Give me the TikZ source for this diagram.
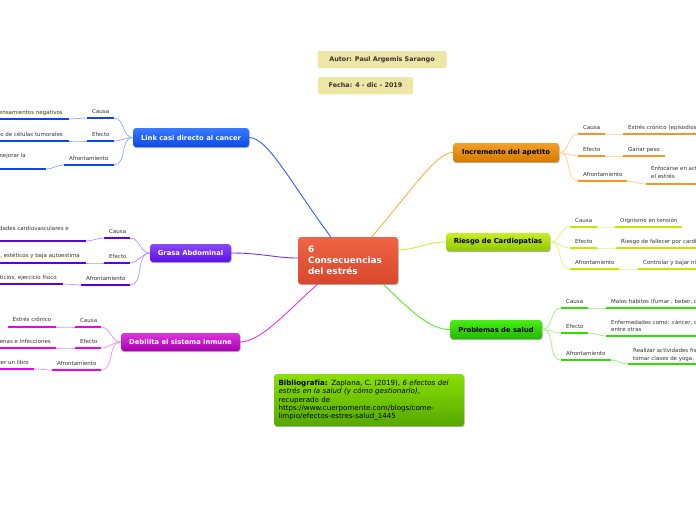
\documentclass[tikz,border=0pt]{standalone}
\usepackage{fontspec}
\setmainfont{DejaVu Sans}
\usetikzlibrary{shadows}
\definecolor{bluT}{HTML}{3A7BFF}\definecolor{bluB}{HTML}{0A48E8}\definecolor{bluU}{HTML}{0A47F0}\definecolor{bluC}{HTML}{8FA8FF}\definecolor{bluM}{HTML}{2A60FF}
\definecolor{orT}{HTML}{F2A02A}\definecolor{orB}{HTML}{D47C00}\definecolor{orU}{HTML}{F5961E}\definecolor{orC}{HTML}{FFCC88}\definecolor{orM}{HTML}{FFB040}
\definecolor{ygT}{HTML}{C8EE24}\definecolor{ygB}{HTML}{92C800}\definecolor{ygU}{HTML}{C8E600}\definecolor{ygC}{HTML}{E0F27A}\definecolor{ygM}{HTML}{D0EE30}
\definecolor{grT}{HTML}{48EE14}\definecolor{grB}{HTML}{22B800}\definecolor{grU}{HTML}{33DD00}\definecolor{grC}{HTML}{9CEE7A}\definecolor{grM}{HTML}{55EE22}
\definecolor{puT}{HTML}{8A48FF}\definecolor{puB}{HTML}{5A10E0}\definecolor{puU}{HTML}{5A00E6}\definecolor{puC}{HTML}{B890FF}\definecolor{puM}{HTML}{7A30F8}
\definecolor{maT}{HTML}{DD36DD}\definecolor{maB}{HTML}{A800B0}\definecolor{maU}{HTML}{EE00EE}\definecolor{maC}{HTML}{F290F2}\definecolor{maM}{HTML}{EE30EE}
\definecolor{ceT}{HTML}{EE6444}\definecolor{ceB}{HTML}{D8472D}
\definecolor{biT}{HTML}{8AE000}\definecolor{biB}{HTML}{55A800}
\definecolor{auF}{HTML}{EEE6A4}
\definecolor{txt}{HTML}{333333}
\newcommand\ulx[5]{\coordinate (#1w) at (#3,#5); \coordinate (#1e) at (#4,#5); \draw[ul,#2] (#1w) -- (#1e);}
\begin{document}
\begin{tikzpicture}[x=1pt,y=-1pt,
  box/.style={rounded corners=3pt, inner sep=0pt, font=\fontsize{6.8}{8}\selectfont\bfseries,
    drop shadow={shadow xshift=0.6pt, shadow yshift=-1.2pt, opacity=0.3, fill=black}},
  lbl/.style={font=\fontsize{5.5}{7.5}\selectfont, inner sep=0pt, text=txt},
  ul/.style={line width=2.4pt},
  con/.style={line width=0.7pt},
  main/.style={line width=0.9pt}]
\useasboundingbox (0,0) rectangle (696,520);
\fill[white] (0,0) rectangle (696,520);
\clip (0,0) rectangle (696,520);

% ---------- author / date
\node[fill=auF, rounded corners=1.5pt, minimum width=129pt, minimum height=17pt, inner sep=0pt,
  font=\fontsize{6.4}{7.5}\selectfont\bfseries, text=txt] (autor) at (382,59.5) {Autor: Paul Argemis Sarango};
\node[fill=auF, rounded corners=1.5pt, minimum width=95pt, minimum height=17pt, inner sep=0pt,
  font=\fontsize{6.4}{7.5}\selectfont\bfseries, text=txt] (fecha) at (365.5,85.5) {Fecha: 4 - dic - 2019};

% ---------- center
\node[box, top color=ceT, bottom color=ceB, text=white, minimum width=100pt, minimum height=47pt,
  text width=80pt, align=left, font=\fontsize{8.9}{11.2}\selectfont\bfseries] (center) at (348,260.5)
  {6\\Consecuencias\\del estrés};

% ---------- bibliography
\node[box, top color=biT, bottom color=biB, text=black, minimum width=190pt, minimum height=52pt,
  text width=181pt, align=left, font=\fontsize{7.1}{8.1}\selectfont] (bib) at (369,400)
  {\textbf{Bibliografía:} Zaplana, C. (2019), \textit{6 efectos del}\\
   \textit{estrés en la salud (y cómo gestionarlo)},\\
   recuperado de\\
   https://www.cuerpomente.com/blogs/come-\\
   limpio/efectos-estres-salud\_1445};

% ---------- main boxes
\node[box, top color=bluT, bottom color=bluB, text=white, minimum width=116pt, minimum height=19pt] (link) at (191,137.5) {Link casi directo al cancer};
\node[box, top color=puT, bottom color=puB, text=white, minimum width=81pt, minimum height=18pt] (grasa) at (190.5,253) {Grasa Abdominal};
\node[box, top color=maT, bottom color=maB, text=white, minimum width=119pt, minimum height=18pt] (deb) at (180.5,342) {Debilita el sistema inmune};
\node[box, top color=orT, bottom color=orB, text=black, minimum width=106pt, minimum height=19pt] (inc) at (506,152.5) {Incremento del apetito};
\node[box, top color=ygT, bottom color=ygB, text=black, minimum width=104pt, minimum height=18pt] (ries) at (498,242) {Riesgo de Cardiopatías};
\node[box, top color=grT, bottom color=grB, text=black, minimum width=92pt, minimum height=19pt] (prob) at (496,329.5) {Problemas de salud};

% ---------- main connectors
\draw[main,bluM] ([xshift=33pt]center.north west) .. controls (292,185) and (268,137.5) .. (link.east);
\draw[main,orM] ([xshift=74pt]center.north west) .. controls (412,190) and (436,152.5) .. (inc.west);
\draw[main,ygM] ([yshift=10.5pt]center.east) .. controls (420,249) and (425,242) .. (ries.west);
\draw[main,grM] ([xshift=-15pt]center.south east) .. controls (412,312) and (430,329.5) .. (prob.west);
\draw[main,puM] (grasa.east) .. controls (262,253) and (275,258) .. ([yshift=2.5pt]center.west);
\draw[main,maM] (deb.east) .. controls (262,342) and (292,306) .. ([xshift=20pt]center.south west);

% ---------- blue branch
\ulx{b1}{bluU}{87}{114}{118}
\node[lbl, anchor=base west] (b1t) at (92,113.5) {Causa};
\ulx{b1l}{bluU}{-5}{69}{119}
\node[lbl, anchor=base east] (b1lt) at (63,114.5) {Pensamientos negativos};
\ulx{b2}{bluU}{87}{114}{141}
\node[lbl, anchor=base west] (b2t) at (92,136.5) {Efecto};
\ulx{b2l}{bluU}{-5}{69}{141}
\node[lbl, anchor=base east] (b2lt) at (63,136) {Aumento de células tumorales};
\ulx{b3}{bluU}{64}{114}{165}
\node[lbl, anchor=base west] (b3t) at (69,160.5) {Afrontamiento};
\ulx{b3l}{bluU}{-5}{46}{169}
\node[lbl, anchor=base east] (b3lt) at (26,157.5) {mejorar la};
\foreach \n in {b1,b2,b3} \draw[con,bluC] (link.west) to[out=180,in=0] (\n e);
\foreach \n in {b1,b2,b3} \draw[con,bluC] (\n w) to[out=180,in=0] (\n le);

% ---------- purple branch
\ulx{p1}{puU}{104}{130}{238}
\node[lbl, anchor=base west] (p1t) at (109,233.5) {Causa};
\ulx{p1l}{puU}{-5}{86}{241}
\node[lbl, anchor=base east] (p1lt) at (69,230.5) {Enfermedades cardiovasculares e};
\ulx{p2}{puU}{104}{130}{263}
\node[lbl, anchor=base west] (p2t) at (109,258.5) {Efecto};
\ulx{p2l}{puU}{-5}{86}{263}
\node[lbl, anchor=base east] (p2lt) at (80,257.5) {Problemas de salud, estéticos y baja autoestima};
\ulx{p3}{puU}{81}{130}{285}
\node[lbl, anchor=base west] (p3t) at (86,280.5) {Afrontamiento};
\ulx{p3l}{puU}{-5}{63}{284}
\node[lbl, anchor=base east] (p3lt) at (57,279.5) {Hábitos alimenticios, ejercicio físico};
\foreach \n in {p1,p2,p3} \draw[con,puC] (grasa.west) to[out=180,in=0] (\n e);
\foreach \n in {p1,p2,p3} \draw[con,puC] (\n w) to[out=180,in=0] (\n le);

% ---------- magenta branch
\ulx{m1}{maU}{75}{101}{327}
\node[lbl, anchor=base west] (m1t) at (80,322.5) {Causa};
\ulx{m1l}{maU}{8}{56}{327}
\node[lbl, anchor=base west] (m1lt) at (12.5,321.5) {Estrés crónico};
\ulx{m2}{maU}{75}{101}{348}
\node[lbl, anchor=base west] (m2t) at (80,343.5) {Efecto};
\ulx{m2l}{maU}{-5}{56}{348}
\node[lbl, anchor=base east] (m2lt) at (51,343) {Enfermedades ajenas e infecciones};
\ulx{m3}{maU}{52}{101}{370}
\node[lbl, anchor=base west] (m3t) at (57,365.5) {Afrontamiento};
\ulx{m3l}{maU}{-5}{34}{369}
\node[lbl, anchor=base east] (m3lt) at (29,364.5) {Leer un libro};
\foreach \n in {m1,m2,m3} \draw[con,maC] (deb.west) to[out=180,in=0] (\n e);
\foreach \n in {m1,m2,m3} \draw[con,maC] (\n w) to[out=180,in=0] (\n le);

% ---------- orange branch
\ulx{o1}{orU}{578}{605}{134}
\node[lbl, anchor=base west] (o1t) at (583,129.5) {Causa};
\ulx{o1l}{orU}{623}{705}{134}
\node[lbl, anchor=base west] (o1lt) at (628,129.5) {Estrés crónico (episodios de ansiedad)};
\ulx{o2}{orU}{578}{605}{156}
\node[lbl, anchor=base west] (o2t) at (583,151.5) {Efecto};
\ulx{o2l}{orU}{623}{665}{156}
\node[lbl, anchor=base west] (o2lt) at (628,151.5) {Ganar peso};
\ulx{o3}{orU}{578}{627}{181}
\node[lbl, anchor=base west] (o3t) at (583,176.5) {Afrontamiento};
\ulx{o3l}{orU}{646}{705}{184}
\node[lbl, anchor=north west, align=left] (o3lt) at (651,166.5) {Enfocarse en actividades\\el estrés};
\foreach \n in {o1,o2,o3} \draw[con,orC] (inc.east) to[out=0,in=180] (\n w);
\foreach \n in {o1,o2,o3} \draw[con,orC] (\n e) to[out=0,in=180] (\n lw);

% ---------- yellow-green branch
\ulx{y1}{ygU}{570}{597}{227}
\node[lbl, anchor=base west] (y1t) at (575,222.5) {Causa};
\ulx{y1l}{ygU}{615}{682}{227}
\node[lbl, anchor=base west] (y1lt) at (620,222.5) {Orgnismo en tensión};
\ulx{y2}{ygU}{570}{597}{248}
\node[lbl, anchor=base west] (y2t) at (575,243.5) {Efecto};
\ulx{y2l}{ygU}{616}{705}{248}
\node[lbl, anchor=base west] (y2lt) at (621,243.5) {Riesgo de fallecer por cardiopatías};
\ulx{y3}{ygU}{570}{619}{269}
\node[lbl, anchor=base west] (y3t) at (575,264.5) {Afrontamiento};
\ulx{y3l}{ygU}{638}{705}{269}
\node[lbl, anchor=base west] (y3lt) at (643,264.5) {Controlar y bajar niveles de estrés};
\foreach \n in {y1,y2,y3} \draw[con,ygC] (ries.east) to[out=0,in=180] (\n w);
\foreach \n in {y1,y2,y3} \draw[con,ygC] (\n e) to[out=0,in=180] (\n lw);

% ---------- green branch
\ulx{g1}{grU}{561}{588}{308}
\node[lbl, anchor=base west] (g1t) at (566,303.5) {Causa};
\ulx{g1l}{grU}{606}{705}{308}
\node[lbl, anchor=base west] (g1lt) at (611,303.5) {Malos hábitos (fumar , beber, comer en exceso)};
\ulx{g2}{grU}{561}{588}{333}
\node[lbl, anchor=base west] (g2t) at (566,328.5) {Efecto};
\ulx{g2l}{grU}{606}{705}{336}
\node[lbl, anchor=north west, align=left] (g2lt) at (611,319.5) {Enfermedades como: cáncer, colesterol,\\entre otras};
\ulx{g3}{grU}{561}{611}{360}
\node[lbl, anchor=base west] (g3t) at (566,355.5) {Afrontamiento};
\ulx{g3l}{grU}{628}{705}{364}
\node[lbl, anchor=north west, align=left] (g3lt) at (633,348) {Realizar actividades físicas,\\tomar clases de yoga, meditar};
\foreach \n in {g1,g2,g3} \draw[con,grC] (prob.east) to[out=0,in=180] (\n w);
\foreach \n in {g1,g2,g3} \draw[con,grC] (\n e) to[out=0,in=180] (\n lw);
\end{tikzpicture}
\end{document}
